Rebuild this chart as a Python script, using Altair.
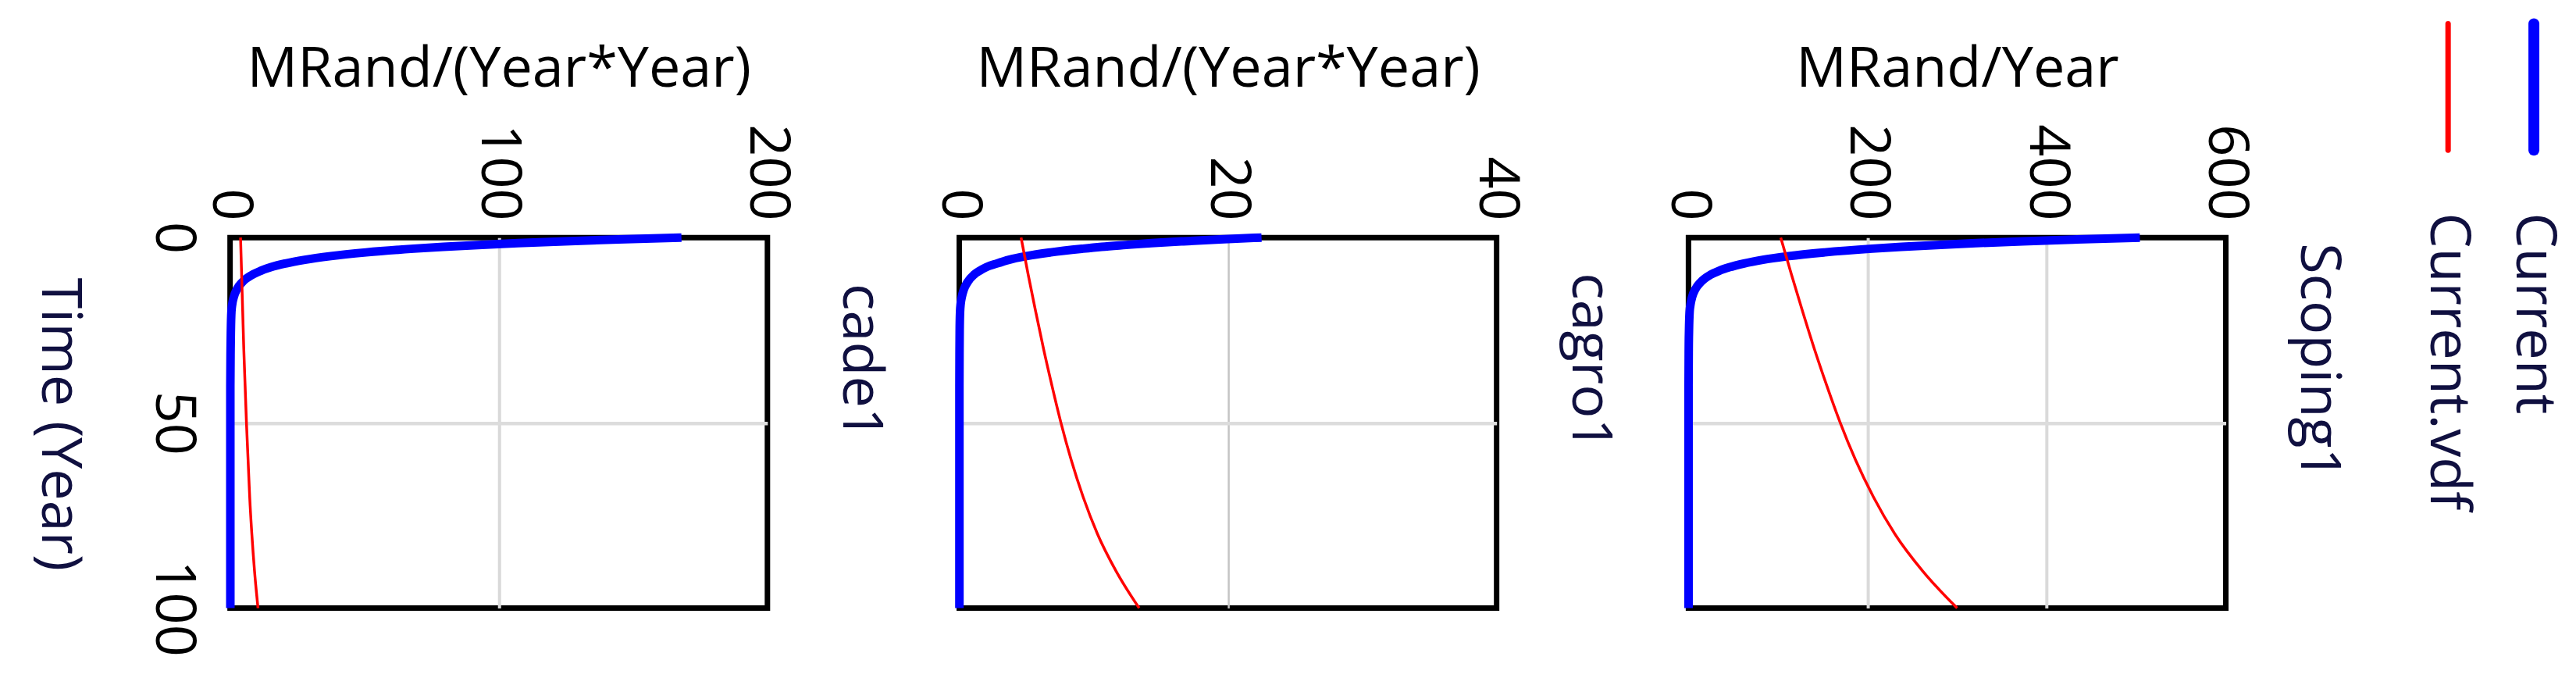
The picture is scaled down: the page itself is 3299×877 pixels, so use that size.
import altair as alt
import pandas as pd

# ---------------- data ----------------
TIME_CURRENT = [0, 0.5, 1, 1.5, 2, 2.5, 3, 4, 5, 6, 7, 8, 9, 10, 12, 14, 16, 18, 20,
                25, 30, 40, 50, 60, 70, 80, 90, 100]
CADE1_CURRENT = [168, 144.6, 124.5, 107.1, 92.2, 79.4, 68.3, 50.6, 37.5, 27.8, 20.6, 15.2,
                 11.3, 8.4, 4.6, 2.5, 1.4, 0.8, 0.5, 0.3, 0.2, 0.1, 0.1, 0.1, 0.1, 0.1, 0.1, 0.1]
CAGRO1_CURRENT = [22.5, 19.4, 16.7, 14.3, 12.4, 10.6, 9.2, 6.8, 5.0, 3.7, 2.8, 2.0,
                  1.5, 1.1, 0.62, 0.34, 0.19, 0.1, 0.06, 0.03, 0.02, 0.01, 0.01, 0.01, 0.01,
                  0.01, 0.01, 0.01]
SCOPING1_CURRENT = [504, 434, 373, 321, 277, 238, 205, 152, 112, 83, 62, 46,
                    34, 25, 13.8, 7.5, 4.1, 2.3, 1.3, 0.6, 0.3, 0.1, 0.1, 0.1, 0.1, 0.1, 0.1, 0.1]

TIME_VDF = [0, 10, 20, 30, 40, 50, 60, 70, 80, 90, 100]
CADE1_VDF = [3.9, 4.3, 4.7, 5.1, 5.6, 6.1, 6.7, 7.3, 8.1, 9.1, 10.4]
CAGRO1_VDF = [4.6, 5.13, 5.69, 6.27, 6.9, 7.57, 8.33, 9.22, 10.29, 11.67, 13.39]
SCOPING1_VDF = [103, 115, 127.5, 140.5, 154.5, 169.5, 186.5, 206.5, 230.5, 261.5, 300]

PANEL_NAMES = ["cade1", "cagro1", "Scoping1"]
PANEL_UNITS = ["MRand/(Year*Year)", "MRand/(Year*Year)", "MRand/Year"]
X_DOMAINS = [[0, 200], [0, 40], [0, 600]]
X_TICKS = [[0, 100, 200], [0, 20, 40], [0, 200, 400, 600]]
TIME_TICKS = [0, 50, 100]
RUNS = ["Current.vdf", "Current"]
RUN_COLORS = ["#ff0000", "#0000ff"]

CURRENT = [CADE1_CURRENT, CAGRO1_CURRENT, SCOPING1_CURRENT]
VDF = [CADE1_VDF, CAGRO1_VDF, SCOPING1_VDF]

# ---------------- styling ----------------
FONT = "Open Sans"
FS = 72
W, H = 689, 475
TXT = "#000000"
ROT_TXT = "#101040"
X_GRID = [("#d9d9d9", 4), ("#c4c4c4", 2.5), ("#dadada", 4)]
Y_GRID = "#dcdcdc"


def inner_grid(lo, hi, color):
    # hide the grid lines that fall on the frame so the black border stays solid
    return alt.condition(f"datum.value == {lo} || datum.value == {hi}",
                         alt.value("transparent"), alt.value(color))


def panel(i):
    df_cur = pd.DataFrame({"t": TIME_CURRENT, "v": CURRENT[i]})
    df_vdf = pd.DataFrame({"t": TIME_VDF, "v": VDF[i]})
    gcol, gw = X_GRID[i]
    lo, hi = X_DOMAINS[i]
    xs = alt.Scale(domain=X_DOMAINS[i], nice=False)
    ys = alt.Scale(domain=[0, 100], reverse=True, nice=False)
    xaxis = alt.Axis(orient="top", values=X_TICKS[i], labelAngle=90, labelAlign="right",
                     labelBaseline="middle", labelPadding=22, ticks=False, domain=False,
                     grid=True, gridColor=inner_grid(lo, hi, gcol), gridWidth=gw,
                     labelFont=FONT, labelFontSize=FS, labelColor=TXT, labelFlush=False,
                     labelOverlap=False, titleFont=FONT, titleFontSize=FS,
                     titleFontWeight="normal", titleColor=TXT, titleAngle=0, titleY=-194,
                     titleBaseline="alphabetic", titleAlign="center")
    if i == 0:
        yaxis = alt.Axis(orient="left", values=TIME_TICKS, labelAngle=90, labelAlign="center",
                         labelBaseline="top", labelPadding=38, ticks=False, domain=False,
                         grid=True, gridColor=inner_grid(0, 100, Y_GRID), gridWidth=4.5,
                         labelFont=FONT, labelFontSize=FS, labelColor=TXT, labelFlush=False,
                         labelOverlap=False, titleFont=FONT, titleFontSize=FS,
                         titleFontWeight="normal", titleColor=ROT_TXT, titleAngle=90,
                         titleX=-241, titleY=239, titleBaseline="alphabetic",
                         titleAlign="center")
        ytitle = "Time (Year)"
    else:
        yaxis = alt.Axis(orient="left", values=TIME_TICKS, labels=False, ticks=False,
                         domain=False, grid=True, gridColor=inner_grid(0, 100, Y_GRID),
                         gridWidth=4.5)
        ytitle = None
    base_x = alt.X("v:Q", scale=xs, axis=xaxis, title=PANEL_UNITS[i])
    base_y = alt.Y("t:Q", scale=ys, axis=yaxis, title=ytitle)

    blue = alt.Chart(df_cur).mark_line(
        orient="vertical", interpolate="monotone", strokeWidth=11, color=RUN_COLORS[1]
    ).encode(x=base_x, y=base_y, order=alt.Order("t:Q"))
    red = alt.Chart(df_vdf).mark_line(
        orient="vertical", interpolate="monotone", strokeWidth=3.5, color=RUN_COLORS[0]
    ).encode(x=base_x, y=base_y, order=alt.Order("t:Q"))
    name = alt.Chart(pd.DataFrame({"name": [PANEL_NAMES[i]]})).mark_text(
        angle=90, align="center", baseline="alphabetic", font=FONT, fontSize=FS,
        color=ROT_TXT
    ).encode(text="name:N", x=alt.value(W + 97), y=alt.value(159))
    return alt.layer(blue, red, name).properties(width=W, height=H)


leg_df = pd.DataFrame({"run": RUNS, "color": RUN_COLORS, "sw": [7, 14]})
lx = alt.X("run:N", scale=alt.Scale(type="point", domain=RUNS, range=[39, 149], padding=0),
           axis=None)
leg_rules = alt.Chart(leg_df).mark_rule(strokeCap="round").encode(
    x=lx, y=alt.value(-274), y2=alt.value(-112),
    color=alt.Color("color:N", scale=None), strokeWidth=alt.StrokeWidth("sw:Q", scale=None))
leg_text = alt.Chart(leg_df).mark_text(
    angle=90, align="left", baseline="middle", font=FONT, fontSize=FS, color=ROT_TXT
).encode(x=lx, y=alt.value(-32), text="run:N")
legend = alt.layer(leg_rules, leg_text).properties(
    width=170, height=H, view=alt.ViewBackground(strokeOpacity=0, strokeWidth=0))

chart = alt.hconcat(panel(0), panel(1), panel(2), legend, spacing=246, bounds="flush")
chart = chart.properties(
    padding={"left": 28, "top": 15, "right": 10, "bottom": 5}
).configure_view(stroke="#000000", strokeWidth=7)

chart.save("out.html", embed_options={"renderer": "svg", "actions": False})
